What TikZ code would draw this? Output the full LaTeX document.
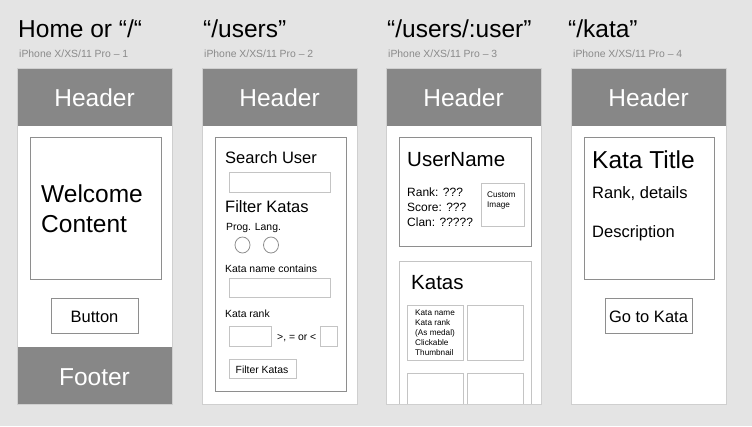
\documentclass[tikz,border=0pt]{standalone}
\usepackage{fontspec}
\setmainfont{Liberation Sans}

\definecolor{bggray}{HTML}{E4E4E4}
\definecolor{headgray}{HTML}{878787}
\definecolor{frameline}{HTML}{CFCFCF}
\definecolor{boxline}{HTML}{8E8E8E}
\definecolor{fieldline}{HTML}{C4C4C4}
\definecolor{subgray}{HTML}{8A8A8A}

\newcommand{\fsHuge}{\fontsize{24.5}{30}\selectfont}
\newcommand{\fsLarge}{\fontsize{20.5}{24}\selectfont}
\newcommand{\fsMid}{\fontsize{16.5}{20}\selectfont}
\newcommand{\fsInfo}{\fontsize{12}{15}\selectfont}
\newcommand{\fsSmall}{\fontsize{10.4}{12.5}\selectfont}
\newcommand{\fsTiny}{\fontsize{8.2}{10}\selectfont}

\tikzset{
  phone/.style={draw=frameline, line width=1pt},
  box/.style={draw=boxline, line width=1pt},
  field/.style={draw=fieldline, line width=1pt},
  txt/.style={anchor=base west, inner sep=0pt},
  bartxt/.style={anchor=base, inner sep=0pt, text=white, font=\fsHuge},
  subtxt/.style={txt, text=subgray, font=\fsSmall},
}

\begin{document}
\begin{tikzpicture}[x=1pt, y=-1pt]
  \useasboundingbox[fill=bggray] (0,0) rectangle (752,426);

  % phone frames with header bar
  \foreach \l/\n in {17/1, 202/2, 386/3, 571/4} {
    \fill[white] (\l,68) rectangle ++(155,336);
    \fill[headgray] (\l,68) rectangle ++(155,58);
    \node[bartxt] (header\n) at (\l+77.5,106) {Header};
    \node[subtxt] (device\n) at (\l+2,57) {iPhone X/XS/11 Pro – \n};
  }

  \node[txt, font=\fsHuge] (hometitle) at (18,37) {Home or “/“};
  \node[txt, font=\fsHuge] (userstitle) at (203,37) {“/users”};
  \node[txt, font=\fsHuge] (usertitle) at (387,37) {“/users/:user”};
  \node[txt, font=\fsHuge] (katatitle) at (568,37) {“/kata”};

  % home (multi-line nodes sit on their last baseline)
  \draw[box] (30,137) rectangle (161,279);
  \node[txt, font=\fsHuge, align=left] (welcome) at (41,232) {Welcome\\Content};
  \draw[box] (51,298) rectangle (138,333);
  \node[anchor=base, inner sep=0pt, font=\fsMid] (button) at (94.5,322) {Button};
  \fill[headgray] (17,347) rectangle (172,404);
  \node[bartxt] (footer) at (94.5,385) {Footer};

  % users
  \draw[box] (215,137) rectangle (346,391);
  \node[txt, font=\fsMid] (searchuser) at (225,163) {Search User};
  \draw[field] (229,172) rectangle (330,192);
  \node[txt, font=\fsMid] (filterkatas) at (225,212) {Filter Katas};
  \node[txt, font=\fsSmall] (proglang) at (226,230) {Prog. Lang.};
  \draw[boxline, line width=0.8pt] (242.5,245) ellipse (7.5 and 8);
  \draw[boxline, line width=0.8pt] (271,245) ellipse (7.5 and 8);
  \node[txt, font=\fsSmall] (namecontains) at (225,272) {Kata name contains};
  \draw[field] (229,278) rectangle (330,297);
  \node[txt, font=\fsSmall] (katarank) at (225,317) {Kata rank};
  \draw[field] (229,326) rectangle (271,346);
  \node[txt, font=\fsSmall] (compare) at (277,340) {>, = or <};
  \draw[field] (320,326) rectangle (337,346);
  \draw[field] (229,359) rectangle (296,378);
  \node[txt, font=\fsSmall] (filterbtn) at (235.5,373) {Filter Katas};

  % user
  \draw[box] (399,137) rectangle (531,246);
  \node[txt, font=\fsLarge] (username) at (407,166) {UserName};
  \node[txt, font=\fsInfo, align=left] (stats) at (407,226) {Rank: ???\\Score: ???\\Clan: ?????};
  \draw[field] (481,183) rectangle (524,226);
  \node[txt, font=\fsTiny, align=left] (customimg) at (487,207) {Custom\\Image};
  \begin{scope}
    \clip (386,126) rectangle (541,404);
    \draw[field] (399,261) rectangle (531,420);
    \node[txt, font=\fsLarge] (katas) at (411,289) {Katas};
    \foreach \tx in {407,467} {
      \draw[field] (\tx,305) rectangle ++(56,55);
      \draw[field] (\tx,373) rectangle ++(56,55);
    }
    \node[txt, font=\fsTiny, align=left] (thumb) at (415,355)
      {Kata name\\Kata rank\\(As medal)\\Clickable\\Thumbnail};
  \end{scope}

  % kata
  \draw[box] (584,137) rectangle (714,279);
  \node[txt, font=\fsHuge] (katahead) at (592,168) {Kata Title};
  \node[txt, font=\fsMid] (details) at (592,198) {Rank, details};
  \node[txt, font=\fsMid] (descr) at (592,237) {Description};
  \draw[box] (605,298) rectangle (692,333);
  \node[anchor=base, inner sep=0pt, font=\fsMid] (gokata) at (648.5,322) {Go to Kata};

  % frame borders on top
  \foreach \l in {17, 202, 386, 571}
    \draw[phone] (\l,68) rectangle ++(155,336);
\end{tikzpicture}
\end{document}
